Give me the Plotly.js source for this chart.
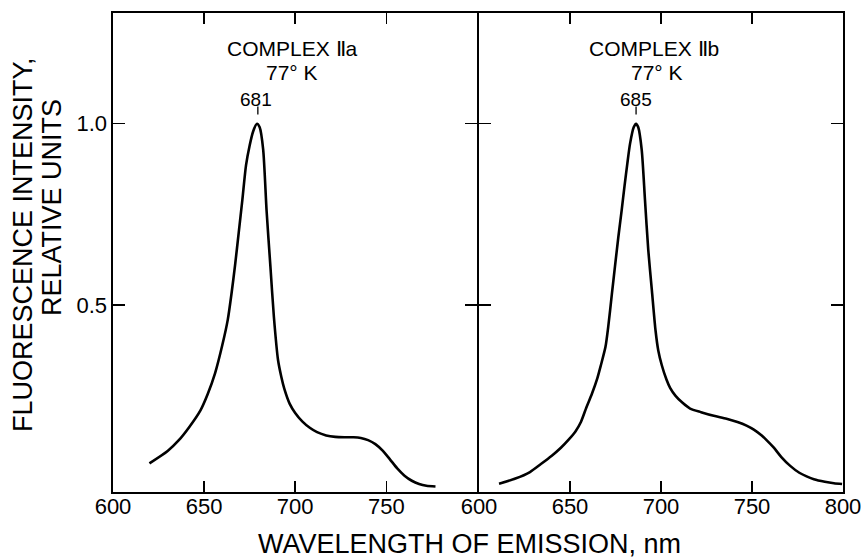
<!DOCTYPE html>
<html>
<head>
<meta charset="utf-8">
<script src="https://cdn.plot.ly/plotly-3.0.1.min.js"></script>
<style>html,body{margin:0;padding:0;background:#fff;}</style>
</head>
<body>
<div id="chart" style="width:864px;height:559px;"></div>
<script>
// Complex IIa (77 K) emission spectrum
const wlA = [620, 630, 636, 642, 648, 652, 656, 660, 663, 665, 667, 669, 671, 673, 675, 677, 679, 680.5, 682.4, 684.3, 686.4, 688.3, 690.6, 692.4, 694, 697, 700, 704, 708, 712, 717, 722, 727, 732, 736, 740, 744, 748, 752, 756, 760, 764, 768, 772, 777];
const intA = [0.064, 0.098, 0.127, 0.165, 0.21, 0.255, 0.312, 0.39, 0.46, 0.53, 0.61, 0.70, 0.79, 0.885, 0.94, 0.98, 1.0, 0.99, 0.93, 0.76, 0.606, 0.468, 0.348, 0.302, 0.27, 0.228, 0.203, 0.179, 0.162, 0.15, 0.141, 0.137, 0.136, 0.136, 0.134, 0.128, 0.117, 0.099, 0.075, 0.050, 0.030, 0.016, 0.007, 0.002, 0.0];
// Complex IIb (77 K) emission spectrum
const wlB = [611, 620, 628, 634, 640, 645, 649, 653, 656, 659, 662, 665, 667, 669.5, 671, 673, 674.7, 676.5, 678.4, 680, 681.5, 683, 685, 686.3, 687.5, 689.4, 691.2, 693, 695, 697, 698.5, 700.4, 703, 705, 708, 712, 716, 722, 729, 736, 742, 747, 751, 755, 758, 762, 766, 771, 776, 780, 784, 790, 795, 799.5];
const intB = [0.008, 0.022, 0.04, 0.062, 0.085, 0.107, 0.128, 0.152, 0.178, 0.218, 0.255, 0.298, 0.335, 0.385, 0.44, 0.53, 0.606, 0.685, 0.762, 0.83, 0.89, 0.945, 0.99, 1.0, 0.99, 0.928, 0.79, 0.652, 0.54, 0.43, 0.375, 0.335, 0.295, 0.272, 0.25, 0.23, 0.215, 0.205, 0.195, 0.187, 0.178, 0.168, 0.157, 0.142, 0.128, 0.107, 0.082, 0.057, 0.038, 0.028, 0.02, 0.013, 0.009, 0.007];

const panelTitles = ['COMPLEX \u2161a', 'COMPLEX \u2161b'];
const tempLabel = '77\u00b0 K';
const peakLabels = ['681', '685'];
const peakPos = [679.5, 686.3];
const xTicksA = [600, 650, 700, 750];
const xTicksB = [600, 650, 700, 750, 800];
const yTicks = [0.5, 1.0];
const yTickText = ['0.5', '1.0'];

const FONT = 'Liberation Sans, Arial, sans-serif';
const lineStyle = {color: '#000', width: 2.6, shape: 'spline', smoothing: 0.7};

const traces = [
  {x: wlA, y: intA, xaxis: 'x', yaxis: 'y', mode: 'lines', line: lineStyle, hoverinfo: 'skip'},
  {x: wlB, y: intB, xaxis: 'x2', yaxis: 'y2', mode: 'lines', line: lineStyle, hoverinfo: 'skip'}
];

const LW = 1.6;
const plotW = 730;
const xCommon = {
  range: [600, 800], ticks: 'inside', ticklen: 11, tickwidth: 1.5, tickcolor: '#000',
  mirror: 'ticks', showline: true, linecolor: '#000', linewidth: LW,
  showgrid: false, zeroline: false, tickfont: {family: FONT, size: 22, color: '#000'},
  ticklabelstandoff: -6
};
const yCommon = {
  range: [-0.015, 1.305], ticks: 'inside', ticklen: 12, tickwidth: 1.5, tickcolor: '#000',
  mirror: 'ticks', showline: true, linecolor: '#000', linewidth: LW,
  showgrid: false, zeroline: false, tickvals: yTicks, ticktext: yTickText,
  tickfont: {family: FONT, size: 22, color: '#000'}
};

const ann = [];
const base = {showarrow: false, xanchor: 'center', yanchor: 'middle'};
[['x', 'y', 698.4, 698, 678.4], ['x2', 'y2', 696.4, 698, 686.5]].forEach((p, i) => {
  ann.push(Object.assign({xref: p[0], yref: p[1], x: p[2], y: 1.208, text: panelTitles[i], font: {family: FONT, size: 21, color: '#000'}}, base));
  ann.push(Object.assign({xref: p[0], yref: p[1], x: p[3], y: 1.140, text: tempLabel, font: {family: FONT, size: 21, color: '#000'}}, base));
  ann.push(Object.assign({xref: p[0], yref: p[1], x: p[4], y: 1.068, text: peakLabels[i], font: {family: FONT, size: 19, color: '#000'}}, base));
});
ann.push(Object.assign({xref: 'paper', yref: 'paper', x: 0.4877, y: -0.1086, text: 'WAVELENGTH OF EMISSION, nm', font: {family: FONT, size: 27, color: '#000'}}, base));
ann.push(Object.assign({xref: 'paper', yref: 'paper', x: -0.1233, y: 0.5177, text: 'FLUORESCENCE INTENSITY,', textangle: -90, font: {family: FONT, size: 27, color: '#000'}}, base));
ann.push(Object.assign({xref: 'paper', yref: 'paper', x: -0.0836, y: 0.595, text: 'RELATIVE UNITS', textangle: -90, font: {family: FONT, size: 27, color: '#000'}}, base));

const shapes = [
  {type: 'line', xref: 'x', yref: 'y', x0: peakPos[0], x1: peakPos[0], y0: 1.025, y1: 1.047, line: {color: '#000', width: 1.3}},
  {type: 'line', xref: 'x2', yref: 'y2', x0: peakPos[1], x1: peakPos[1], y0: 1.025, y1: 1.047, line: {color: '#000', width: 1.3}}
];

const split = 366 / plotW;
const layout = {
  width: 864, height: 559,
  margin: {l: 113, r: 21, t: 13, b: 67},
  paper_bgcolor: '#fff', plot_bgcolor: '#fff',
  showlegend: false,
  xaxis: Object.assign({}, xCommon, {domain: [0, split - LW / plotW], anchor: 'y', tickvals: xTicksA}),
  xaxis2: Object.assign({}, xCommon, {domain: [split, 1], anchor: 'y2', tickvals: xTicksB}),
  yaxis: Object.assign({}, yCommon, {anchor: 'x'}),
  yaxis2: Object.assign({}, yCommon, {anchor: 'x2', matches: 'y', showticklabels: false}),
  annotations: ann,
  shapes: shapes
};

Plotly.newPlot('chart', traces, layout, {displayModeBar: false, staticPlot: true});
</script>
</body>
</html>
